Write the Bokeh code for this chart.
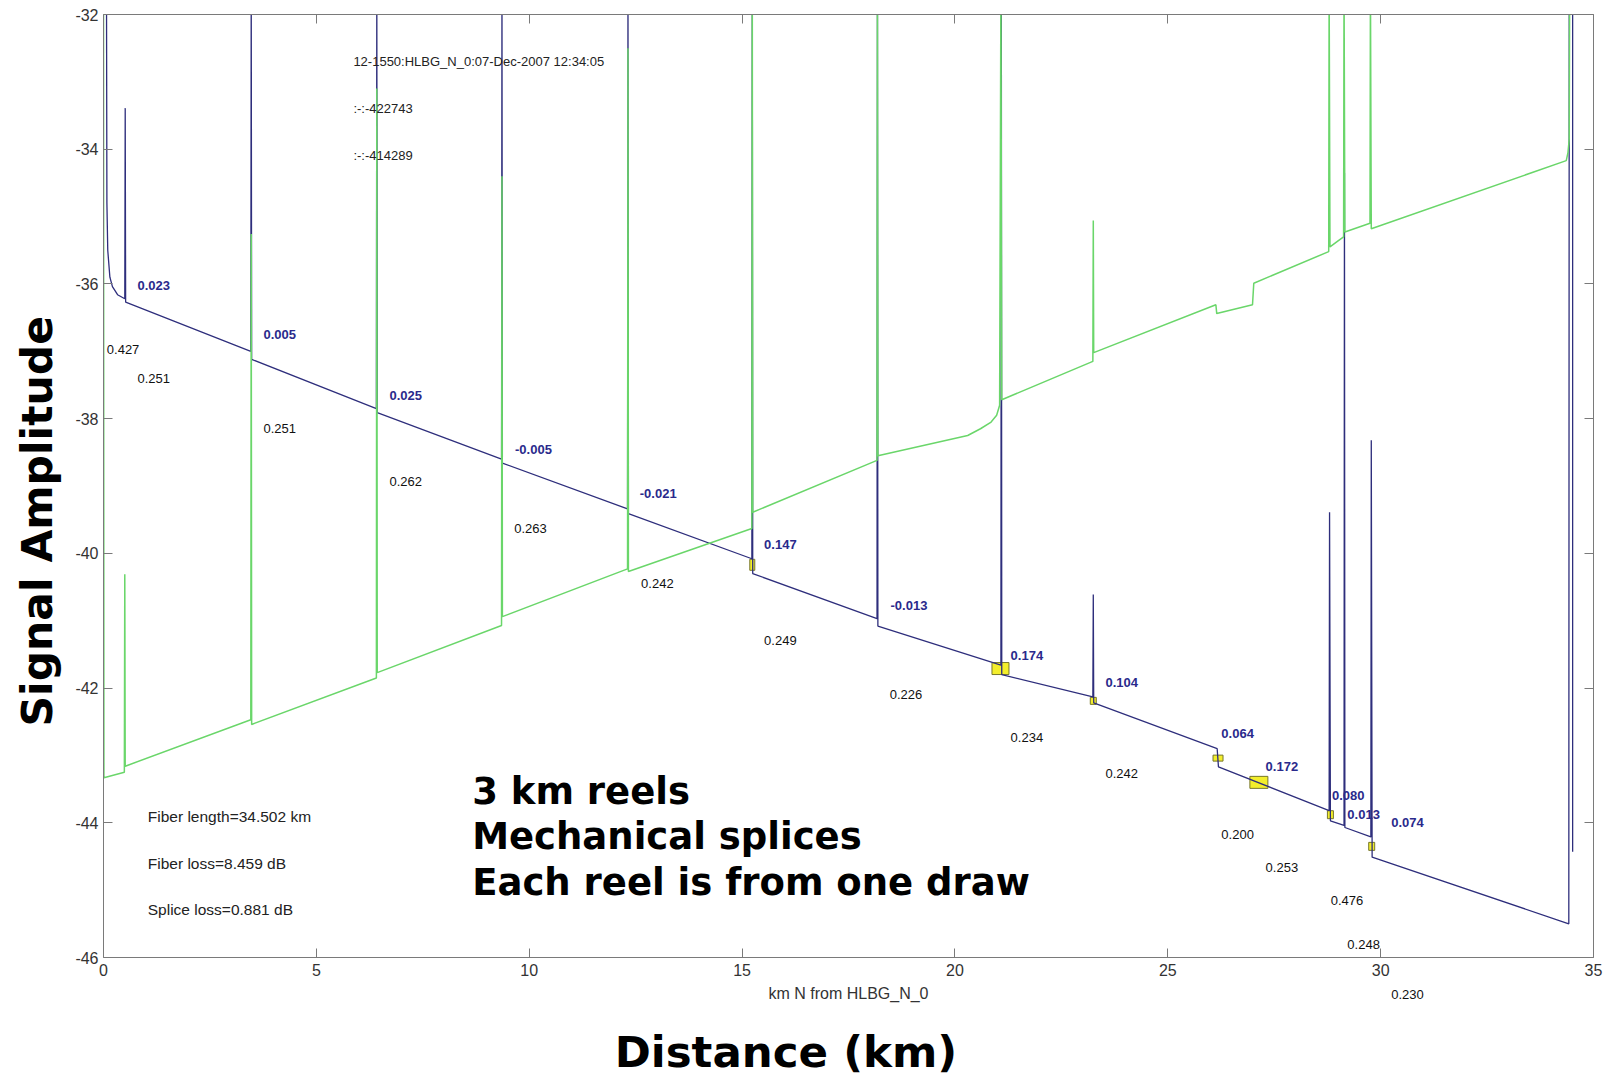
from bokeh.plotting import figure
from bokeh.models import (ColumnDataSource, LabelSet, Label, LinearAxis,
                          FixedTicker, Range1d, Title)
from bokeh.core.properties import value
from bokeh.embed import file_html
from bokeh.resources import INLINE

# ---------------- data ----------------
# forward trace (blue): distance km / level dB
blue_km = [0.07, 0.08, 0.10, 0.15, 0.21, 0.33, 0.50, 0.51, 0.52,
           3.46, 3.47, 3.48, 6.41, 6.42, 6.43, 9.35, 9.36, 9.37,
           12.31, 12.32, 12.33, 15.23, 15.24, 15.25, 18.17, 18.18, 18.19,
           21.08, 21.09, 21.10, 23.24, 23.25, 23.26, 26.16, 26.19,
           28.79, 28.80, 28.82, 29.14, 29.15, 29.16, 29.77, 29.78, 29.80,
           34.42, 34.43, 34.51, 34.51]
blue_db = [-31.5, -34.8, -35.5, -35.9, -36.04, -36.16, -36.22, -33.39, -36.27,
           -37.00, -31.5, -37.12, -37.85, -31.5, -37.91, -38.60, -31.5, -38.66,
           -39.34, -31.5, -39.41, -40.08, -31.5, -40.30, -40.97, -31.5, -41.08,
           -41.66, -31.5, -41.80, -42.13, -40.61, -42.22, -42.90, -43.17,
           -43.82, -39.39, -43.97, -44.04, -34.35, -44.07, -44.21, -38.32, -44.51,
           -45.50, -31.5, -31.5, -44.43]

# reverse trace (green)
green_km = [0.00, 0.01, 0.49, 0.50, 0.51, 3.46, 3.47, 3.48, 6.41, 6.42, 6.43,
            9.35, 9.36, 9.37, 12.31, 12.32, 12.33, 15.23, 15.24, 15.25,
            18.17, 18.18, 18.19, 20.30, 20.60, 20.85, 20.98, 21.05, 21.08, 21.10,
            23.24, 23.25, 23.26, 26.13, 26.15, 26.99, 27.02, 28.78, 28.79, 28.81,
            29.00, 29.13, 29.14, 29.16, 29.75, 29.76, 29.78, 34.36, 34.40, 34.43, 34.44]
green_db = [-31.5, -43.33, -43.25, -40.31, -43.16, -42.47, -35.26, -42.54, -41.85, -33.10, -41.77,
            -41.07, -34.40, -40.94, -40.23, -32.50, -40.27, -39.63, -31.5, -39.39,
            -38.62, -31.5, -38.55, -38.25, -38.15, -38.05, -37.95, -37.80, -31.5, -37.72,
            -37.15, -35.06, -37.02, -36.31, -36.44, -36.31, -35.99, -35.52, -31.5, -35.45,
            -35.36, -35.30, -31.5, -35.23, -35.10, -31.5, -35.18, -34.17, -34.05, -33.85, -31.5]

# event markers (yellow boxes)
event_km = [15.24, 21.07, 23.25, 26.18, 27.14, 28.82, 29.79]
event_db = [-40.17, -41.71, -42.19, -43.04, -43.40, -43.88, -44.35]

# splice loss labels (blue) and section attenuation labels (black)
splice_text = ["0.023", "0.005", "0.025", "-0.005", "-0.021", "0.147", "-0.013",
               "0.174", "0.104", "0.064", "0.172", "0.080", "0.013", "0.074"]
splice_km = [1.18, 4.14, 7.10, 10.10, 13.03, 15.90, 18.92,
             21.69, 23.92, 26.64, 27.68, 29.24, 29.60, 30.63]
splice_db = [-36.02, -36.75, -37.65, -38.46, -39.11, -39.87, -40.78,
             -41.51, -41.92, -42.68, -43.17, -43.59, -43.87, -44.00]

atten_text = ["0.427", "0.251", "0.251", "0.262", "0.263", "0.242", "0.249", "0.226",
              "0.234", "0.242", "0.200", "0.253", "0.476", "0.248"]
atten_km = [0.46, 1.18, 4.14, 7.10, 10.03, 13.01, 15.90, 18.85,
            21.69, 23.92, 26.64, 27.68, 29.21, 29.60]
atten_db = [-36.97, -37.41, -38.15, -38.93, -39.63, -40.45, -41.30, -42.10,
            -42.73, -43.27, -44.18, -44.67, -45.16, -45.80]
# last attenuation label, which sits below the axis box
last_atten_text = "0.230"
last_atten_km = 30.63

x_ticks = [0, 5, 10, 15, 20, 25, 30, 35]
y_ticks = [-46, -44, -42, -40, -38, -36, -34, -32]
y_tick_labels = ["-46", "-44", "-42", "-40", "-38", "-36", "-34", "-32"]

# big x title, centred at this distance (it is not centred on the axis)
x_title = "Distance (km)"
x_title_km = 16.03

# ---------------- styles ----------------
marker_w = [5, 17, 6, 10, 18, 6, 6]
marker_h = [11, 12, 7, 6, 12, 8, 8]
AX = "#7a7a7a"
SANS = "Liberation Sans"
BOLD = "DejaVu Sans"

p = figure(width=1606, height=1079, x_range=Range1d(0, 35), y_range=Range1d(-46, -32),
           output_backend="svg", toolbar_location=None,
           min_border_left=102, min_border_right=13, min_border_top=14,
           min_border_bottom=121,
           x_axis_label="km N from HLBG_N_0")
p.outline_line_color = None
p.xgrid.visible = False
p.ygrid.visible = False
p.background_fill_color = "white"
p.border_fill_color = "white"

p.xaxis.ticker = FixedTicker(ticks=x_ticks)
p.yaxis.ticker = FixedTicker(ticks=y_ticks)
p.yaxis.major_label_overrides = {t: s for t, s in zip(y_ticks, y_tick_labels)}
for ax in (p.xaxis[0], p.yaxis[0]):
    ax.axis_line_color = AX
    ax.major_tick_line_color = AX
    ax.major_tick_in = 9
    ax.major_tick_out = 0
    ax.minor_tick_line_color = None
    ax.major_label_text_font = SANS
    ax.major_label_text_font_size = "16px"
    ax.major_label_text_color = "#333333"

p.xaxis.major_label_standoff = 6
p.xaxis.axis_label_text_font = SANS
p.xaxis.axis_label_text_font_size = "16px"
p.xaxis.axis_label_text_font_style = "normal"
p.xaxis.axis_label_text_color = "#333333"
p.xaxis.axis_label_standoff = 6
p.yaxis.major_label_standoff = 5

# box axes (top/right) with inward ticks, no labels
blank_x = {t: "" for t in x_ticks}
blank_y = {t: "" for t in y_ticks}
top = LinearAxis(ticker=FixedTicker(ticks=x_ticks), major_label_overrides=blank_x,
                 major_label_standoff=0, major_tick_in=9, major_tick_out=0,
                 minor_tick_line_color=None, axis_line_color=AX, major_tick_line_color=AX)
right = LinearAxis(ticker=FixedTicker(ticks=y_ticks), major_label_overrides=blank_y,
                   major_label_standoff=0, major_tick_in=9, major_tick_out=0,
                   minor_tick_line_color=None, axis_line_color=AX, major_tick_line_color=AX)
p.add_layout(top, "above")
p.add_layout(right, "right")

# extra axis carrying the attenuation label that lies below the box
extra = LinearAxis(ticker=FixedTicker(ticks=[last_atten_km]),
                   major_label_overrides={last_atten_km: last_atten_text},
                   major_label_standoff=-15, major_tick_in=0, major_tick_out=0,
                   minor_tick_line_color=None, axis_line_color=None,
                   major_tick_line_color=None, major_label_text_font=SANS,
                   major_label_text_font_size="13px", major_label_text_color="#111111")
p.add_layout(extra, "below")

# extra axis carrying the big "Distance (km)" title
xt = LinearAxis(ticker=FixedTicker(ticks=[x_title_km]),
                major_label_overrides={x_title_km: x_title},
                major_label_standoff=22, major_tick_in=0, major_tick_out=0,
                minor_tick_line_color=None, axis_line_color=None,
                major_tick_line_color=None, major_label_text_font=BOLD,
                major_label_text_font_size="43.5px", major_label_text_font_style="bold",
                major_label_text_color="black")
p.add_layout(xt, "below")

p.add_layout(Title(text="Signal Amplitude", align="left", offset=231, standoff=21,
                   text_font=BOLD, text_font_size="42.5px", text_font_style="bold",
                   text_color="black"), "left")

# markers, traces
p.rect(x=event_km, y=event_db, width=marker_w, height=marker_h,
       width_units="screen", height_units="screen",
       fill_color="#f3ee2c", line_color="#77772a", line_width=1)
p.line(blue_km, blue_db, line_color="#2e2e7c", line_width=1.3)
p.line(green_km, green_db, line_color="#6ad66a", line_width=1.5)

# labels
src_s = ColumnDataSource(dict(x=splice_km, y=splice_db, t=splice_text))
src_a = ColumnDataSource(dict(x=atten_km, y=atten_db, t=atten_text))
p.add_layout(LabelSet(x="x", y="y", text="t", source=src_s, text_align="center",
                      text_baseline="middle", text_font=value(SANS),
                      text_font_size=value("13px"), text_font_style="bold",
                      text_color="#2a2a8c"))
p.add_layout(LabelSet(x="x", y="y", text="t", source=src_a, text_align="center",
                      text_baseline="middle", text_font=value(SANS),
                      text_font_size=value("13px"), text_color="#111111"))

for txt, yy in [("12-1550:HLBG_N_0:07-Dec-2007 12:34:05", -32.70),
                (":-:-422743", -33.40), (":-:-414289", -34.10)]:
    p.add_layout(Label(x=5.87, y=yy, text=txt, text_align="left", text_baseline="middle",
                       text_font=SANS, text_font_size="13px", text_color="#222222"))

for txt, yy in [("Fiber length=34.502 km", -43.90), ("Fiber loss=8.459 dB", -44.60),
                ("Splice loss=0.881 dB", -45.28)]:
    p.add_layout(Label(x=1.04, y=yy, text=txt, text_align="left", text_baseline="middle",
                       text_font=SANS, text_font_size="15.5px", text_color="#222222"))

for txt, yy in [("3 km reels", -43.54), ("Mechanical splices", -44.21),
                ("Each reel is from one draw", -44.88)]:
    p.add_layout(Label(x=8.66, y=yy, text=txt, text_align="left", text_baseline="middle",
                       text_font=BOLD, text_font_size="37px",
                       text_font_style="bold", text_color="black"))

open("out.html", "w").write(file_html(p, INLINE))
